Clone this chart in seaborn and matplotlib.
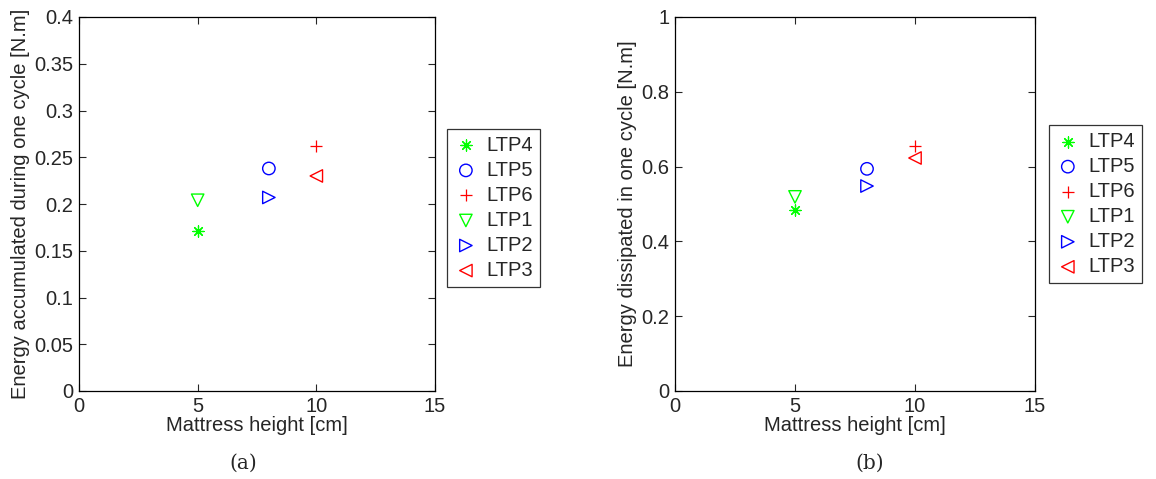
import numpy as np
import pandas as pd
import matplotlib
matplotlib.use("Agg")
import matplotlib.pyplot as plt
import seaborn as sns

# ===== data =====
series = ["LTP4", "LTP5", "LTP6", "LTP1", "LTP2", "LTP3"]
mattress_height = [5, 8, 10, 5, 8, 10]
energy_accumulated = [0.171, 0.238, 0.262, 0.204, 0.207, 0.230]
energy_dissipated = [0.484, 0.594, 0.655, 0.519, 0.548, 0.623]

colors = ["#00ff00", "#0000ff", "#ff0000", "#00ff00", "#0000ff", "#ff0000"]
markers = [(8, 2, 0), "o", "+", "v", ">", "<"]
filled = [False, True, False, True, True, True]

sns.set_style("white")
plt.rcParams["font.family"] = ["Liberation Sans", "DejaVu Sans"]
plt.rcParams["font.size"] = 14.5


def draw_panel(ax, values, ylim, yticks, ylabel):
    df = pd.DataFrame({"x": mattress_height, "y": values, "series": series})
    for i, name in enumerate(series):
        sub = df[df["series"] == name]
        if filled[i]:
            sns.scatterplot(data=sub, x="x", y="y", marker=markers[i], s=80,
                            facecolor="none", edgecolor=colors[i],
                            linewidth=1.0, label=name, ax=ax)
        else:
            sns.scatterplot(data=sub, x="x", y="y", marker=markers[i], s=65,
                            color=colors[i], linewidth=0.9, label=name, ax=ax)
    ax.set_xlim(0, 15)
    ax.set_ylim(*ylim)
    ax.set_xticks([0, 5, 10, 15])
    ax.set_yticks(yticks)
    ax.set_yticklabels([("%g" % t) for t in yticks])
    ax.set_xlabel("Mattress height [cm]", labelpad=0, fontsize=14.5)
    ax.set_ylabel(ylabel, labelpad=3, fontsize=14.5)
    ax.tick_params(direction="in", length=5, width=0.8, top=True, right=True,
                   bottom=True, left=True, labelsize=14.5, pad=4)
    for sp in ax.spines.values():
        sp.set_color("black")
        sp.set_linewidth(0.9)


fig = plt.figure(figsize=(11.56, 4.79), dpi=100)
ax1 = fig.add_axes([79 / 1156, 88 / 479, 356 / 1156, 374 / 479])
ax2 = fig.add_axes([675 / 1156, 88 / 479, 360 / 1156, 374 / 479])

draw_panel(ax1, energy_accumulated, (0, 0.4),
           [0, 0.05, 0.1, 0.15, 0.2, 0.25, 0.3, 0.35, 0.4],
           "Energy accumulated during one cycle [N.m]")
draw_panel(ax2, energy_dissipated, (0, 1),
           [0, 0.2, 0.4, 0.6, 0.8, 1],
           "Energy dissipated in one cycle [N.m]")

for ax, x0, yc in [(ax1, 1.033, 0.49), (ax2, 1.038, 0.50)]:
    leg = ax.legend(loc="center left", bbox_to_anchor=(x0, yc), fancybox=False,
                    frameon=True, edgecolor="black", borderpad=0.35,
                    handletextpad=0.4, labelspacing=0.3, handlelength=1.2,
                    borderaxespad=0, fontsize=14.5)
    leg.get_frame().set_linewidth(0.9)

fig.text(243 / 1156, 1 - 463 / 479, "(a)", ha="center", va="center",
         family=["DejaVu Serif"], fontsize=14.5)
fig.text(870 / 1156, 1 - 463 / 479, "(b)", ha="center", va="center",
         family=["DejaVu Serif"], fontsize=14.5)

fig.savefig("out.png", dpi=100)
